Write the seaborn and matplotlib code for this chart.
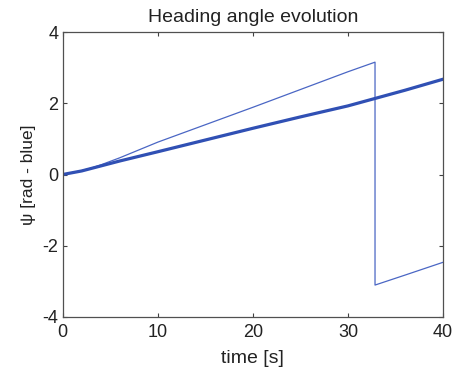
import matplotlib
matplotlib.use("Agg")
import matplotlib.pyplot as plt
import seaborn as sns
import pandas as pd

# Wrapped heading angle (thin) and estimated heading (thick), radians
t_wrapped = [0, 2, 3, 4, 5, 6, 8, 10, 15, 20, 25, 30, 32.85, 32.85, 36, 40]
psi_wrapped = [0, 0.11, 0.18, 0.27, 0.37, 0.47, 0.69, 0.91, 1.40, 1.89, 2.39, 2.89, 3.16, -3.11, -2.83, -2.47]

t_smooth = [0, 2, 4, 6, 8, 10, 15, 20, 25, 30, 33, 36, 40]
psi_smooth = [0, 0.10, 0.24, 0.38, 0.51, 0.64, 0.97, 1.30, 1.62, 1.93, 2.15, 2.37, 2.68]

x_ticks = [0, 10, 20, 30, 40]
y_ticks = [-4, -2, 0, 2, 4]

sns.set_theme(style="white")
plt.rcParams["font.family"] = ["Liberation Sans", "DejaVu Sans"]

fig = plt.figure(figsize=(4.54, 3.74), dpi=100)
ax = fig.add_axes([62.7 / 454, 1 - 316.7 / 374, (443 - 62.7) / 454, (316.7 - 32.3) / 374])

line_color = "#3050b4"
df_w = pd.DataFrame({"t": t_wrapped, "psi": psi_wrapped})
df_s = pd.DataFrame({"t": t_smooth, "psi": psi_smooth})
sns.lineplot(data=df_w, x="t", y="psi", ax=ax, color="#4a66c4", linewidth=0.9, sort=False, estimator=None)
sns.lineplot(data=df_s, x="t", y="psi", ax=ax, color=line_color, linewidth=2.3, sort=False, estimator=None)

ax.set_xlim(0, 40)
ax.set_ylim(-4, 4)
ax.set_xticks(x_ticks)
ax.set_yticks(y_ticks)
ax.set_xticklabels([str(v) for v in x_ticks])
ax.set_yticklabels([str(v) for v in y_ticks])

ax.tick_params(direction="in", length=3, width=0.8, color="#404040",
               labelsize=13, labelcolor="#222222", top=True, right=True,
               bottom=True, left=True)
ax.tick_params(axis="x", pad=5)
ax.tick_params(axis="y", pad=3)
for s in ax.spines.values():
    s.set_color("#505050")
    s.set_linewidth(0.9)

ax.set_title("Heading angle evolution", fontsize=14, color="#222222", pad=7.5)
ax.set_xlabel("time [s]", fontsize=14, color="#222222", labelpad=7)
ax.set_ylabel("ψ [rad - blue]", fontsize=12.5, color="#222222", labelpad=5)

fig.savefig("out.png", dpi=100, facecolor="white")
